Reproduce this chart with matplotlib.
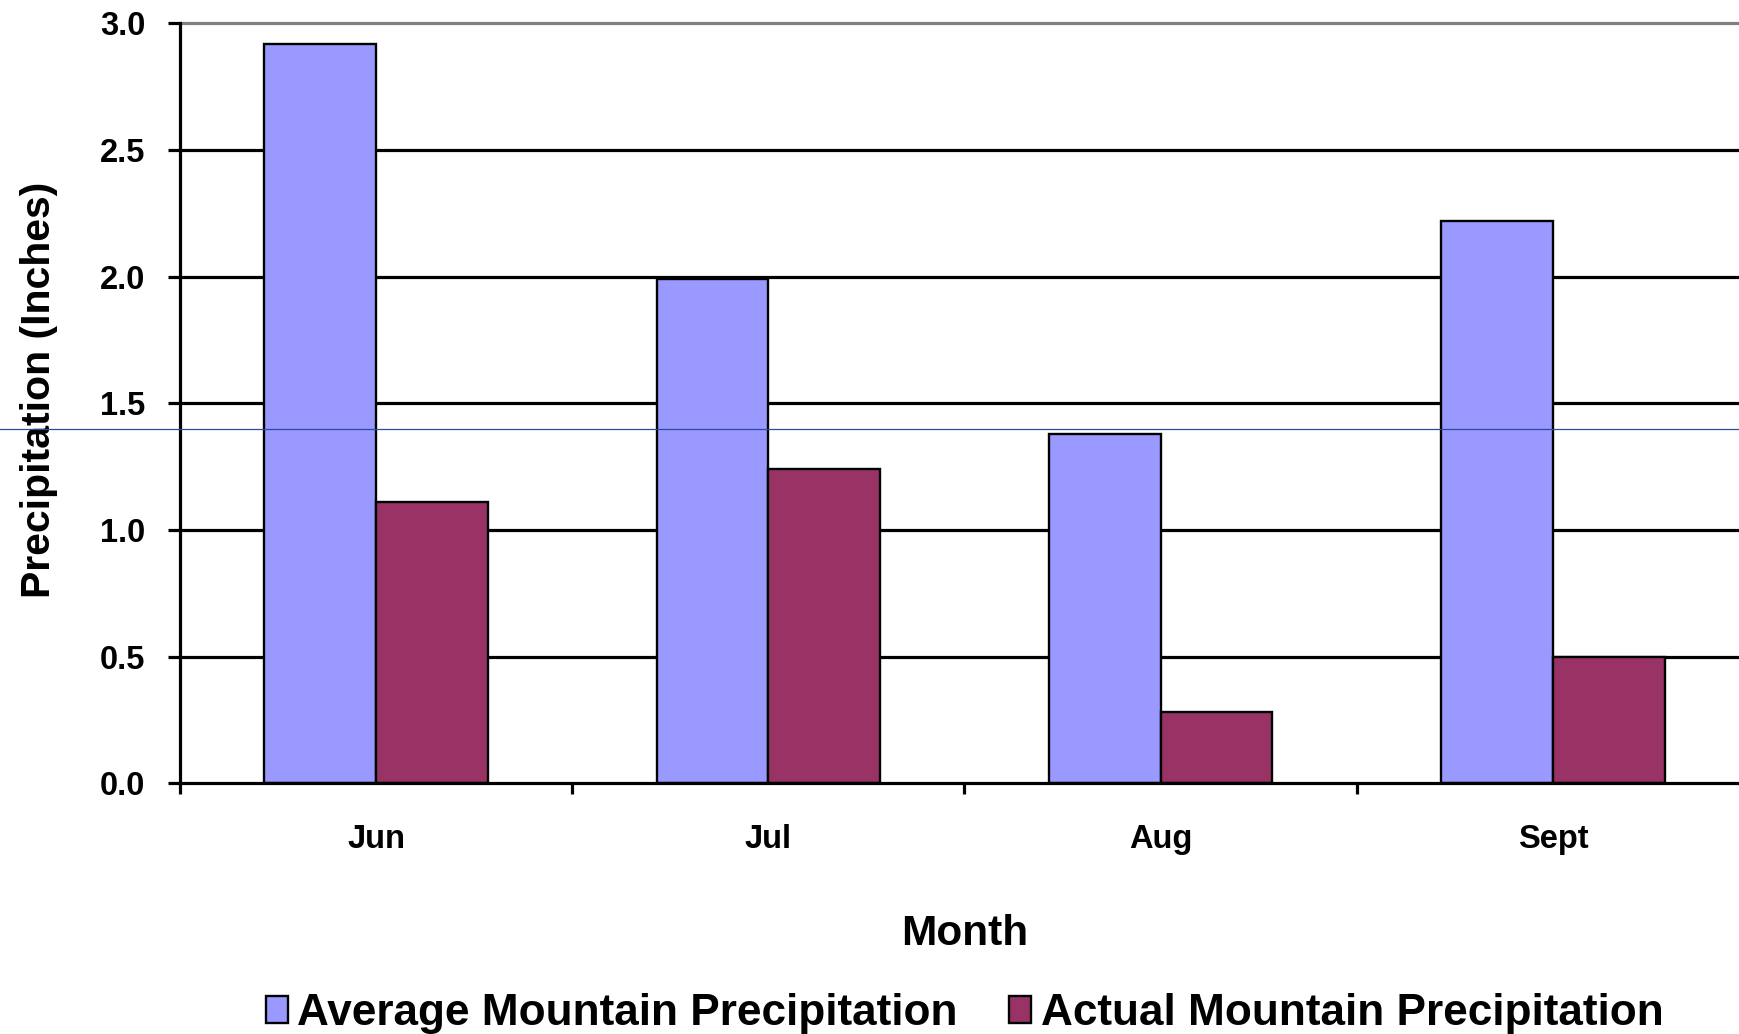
import matplotlib
matplotlib.use("Agg")
import matplotlib.pyplot as plt
import matplotlib.transforms as mtransforms
from matplotlib.lines import Line2D
import numpy as np

plt.rcParams['font.family'] = ['Liberation Sans', 'DejaVu Sans']
plt.rcParams['font.weight'] = 'bold'

months = ["Jun", "Jul", "Aug", "Sept"]
average_precip = [2.92, 1.99, 1.38, 2.22]
actual_precip = [1.11, 1.24, 0.28, 0.50]
reference_level = 1.40
y_ticks = [0.0, 0.5, 1.0, 1.5, 2.0, 2.5, 3.0]

avg_color = "#9999FF"
act_color = "#993366"

fig = plt.figure(figsize=(17.4, 10.34), dpi=100)
ax = fig.add_axes([0.1034, 0.2424, 0.9018, 0.7351])

x = np.arange(len(months))
w = 0.285
ax.bar(x - w / 2, average_precip, width=w, color=avg_color, edgecolor="black",
       linewidth=1.7, label="Average Mountain Precipitation", zorder=3)
ax.bar(x + w / 2, actual_precip, width=w, color=act_color, edgecolor="black",
       linewidth=1.7, label="Actual Mountain Precipitation", zorder=3)

ax.set_xlim(-0.5, len(months) - 0.5)
ax.set_ylim(0, 3.0)

# horizontal gridlines
for yv in y_ticks[1:-1]:
    ax.axhline(yv, color="black", linewidth=2.3, zorder=1)

# spines
ax.spines["right"].set_visible(False)
ax.spines["top"].set_color("#808080")
ax.spines["top"].set_linewidth(2.3)
ax.spines["left"].set_linewidth(2.3)
ax.spines["bottom"].set_linewidth(2.3)
ax.spines["left"].set_zorder(4)
ax.spines["bottom"].set_zorder(4)

# y axis
ax.set_yticks(y_ticks)
ax.set_yticklabels([f"{v:.1f}" for v in y_ticks])
ax.tick_params(axis="y", length=9, width=2.3, pad=16, labelsize=23.5)

# x axis: ticks at category boundaries, labels at category centres
ax.set_xticks(np.arange(-0.5, len(months), 1.0))
ax.set_xticklabels([])
ax.set_xticks(x, minor=True)
ax.set_xticklabels(months, minor=True)
ax.tick_params(axis="x", which="major", length=8, width=2.3)
ax.tick_params(axis="x", which="minor", length=0, pad=29, labelsize=23.5)

ax.set_xlabel("Month", fontsize=30.5, fontweight="bold", labelpad=43)
ax.set_ylabel("Precipitation (Inches)", fontsize=29.5, fontweight="bold", labelpad=30)
ax.yaxis.label.set_y(0.518)

# reference line across the full figure width
trans = mtransforms.blended_transform_factory(fig.transFigure, ax.transData)
fig.add_artist(Line2D([0, 1], [reference_level, reference_level], transform=trans,
                      color="#2B4C9B", linewidth=0.9, zorder=10))

leg = ax.legend(loc="center", bbox_to_anchor=(0.5, -0.303), ncol=2, frameon=False,
                fontsize=31.8, handlelength=0.5, handleheight=0.55,
                handletextpad=0.22, columnspacing=1.15, borderaxespad=0)
for t in leg.get_texts():
    t.set_fontweight("bold")

fig.savefig("out.png", dpi=100)
